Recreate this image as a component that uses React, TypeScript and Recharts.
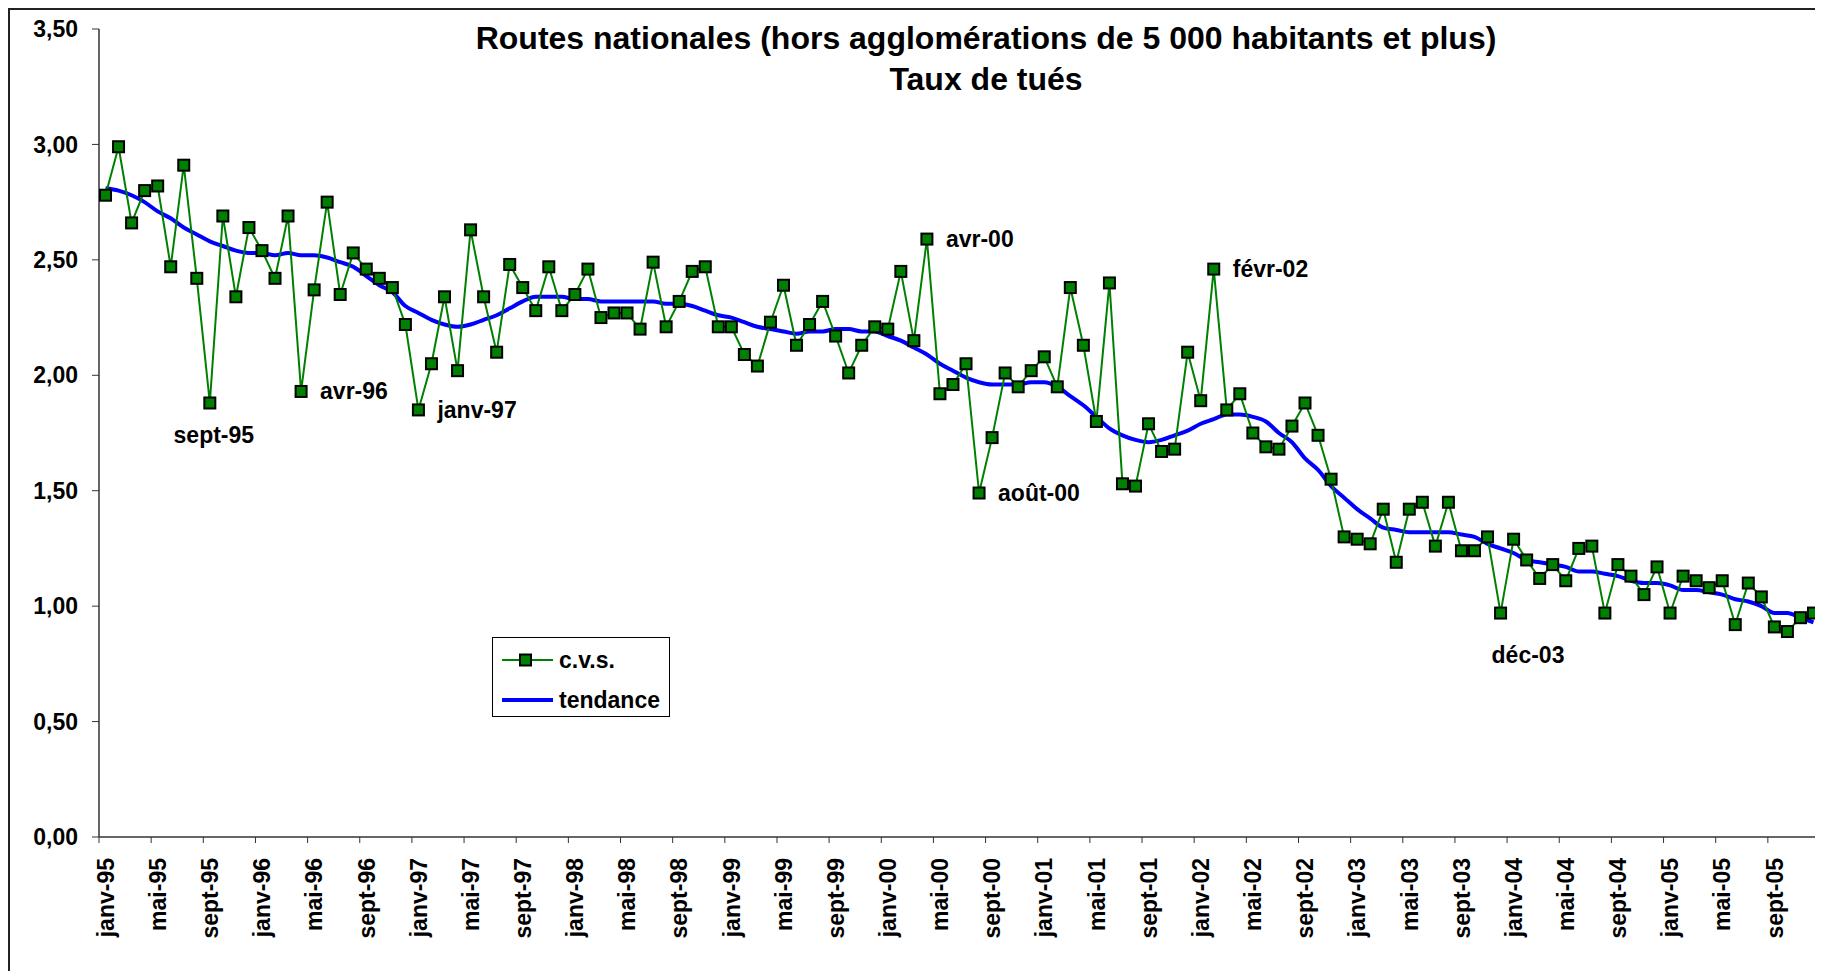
import { LineChart, Line, XAxis, YAxis, Legend } from 'recharts';

// Monthly series, janv-95 .. déc-05
const MONTHS = ['janv', 'févr', 'mars', 'avr', 'mai', 'juin', 'juil', 'août', 'sept', 'oct', 'nov', 'déc'];
const YEARS = ['95', '96', '97', '98', '99', '00', '01', '02', '03', '04', '05'];

// c.v.s. (seasonally adjusted) fatality rate
const CVS = [
  2.78, 2.99, 2.66, 2.80, 2.82, 2.47, 2.91, 2.42, 1.88, 2.69,
  2.34, 2.64, 2.54, 2.42, 2.69, 1.93, 2.37, 2.75, 2.35, 2.53,
  2.46, 2.42, 2.38, 2.22, 1.85, 2.05, 2.34, 2.02, 2.63, 2.34,
  2.10, 2.48, 2.38, 2.28, 2.47, 2.28, 2.35, 2.46, 2.25, 2.27,
  2.27, 2.20, 2.49, 2.21, 2.32, 2.45, 2.47, 2.21, 2.21, 2.09,
  2.04, 2.23, 2.39, 2.13, 2.22, 2.32, 2.17, 2.01, 2.13, 2.21,
  2.20, 2.45, 2.15, 2.59, 1.92, 1.96, 2.05, 1.49, 1.73, 2.01,
  1.95, 2.02, 2.08, 1.95, 2.38, 2.13, 1.80, 2.40, 1.53, 1.52,
  1.79, 1.67, 1.68, 2.10, 1.89, 2.46, 1.85, 1.92, 1.75, 1.69,
  1.68, 1.78, 1.88, 1.74, 1.55, 1.30, 1.29, 1.27, 1.42, 1.19,
  1.42, 1.45, 1.26, 1.45, 1.24, 1.24, 1.30, 0.97, 1.29, 1.20,
  1.12, 1.18, 1.11, 1.25, 1.26, 0.97, 1.18, 1.13, 1.05, 1.17,
  0.97, 1.13, 1.11, 1.08, 1.11, 0.92, 1.10, 1.04, 0.91, 0.89,
  0.95, 0.97,
];

// tendance (trend)
const TREND = [
  2.81, 2.80, 2.78, 2.75, 2.71, 2.68, 2.64, 2.61, 2.58, 2.56,
  2.54, 2.53, 2.53, 2.52, 2.53, 2.52, 2.52, 2.51, 2.49, 2.47,
  2.43, 2.39, 2.36, 2.30, 2.27, 2.24, 2.22, 2.21, 2.22, 2.24,
  2.26, 2.29, 2.32, 2.34, 2.34, 2.34, 2.33, 2.33, 2.32, 2.32,
  2.32, 2.32, 2.32, 2.31, 2.31, 2.30, 2.28, 2.26, 2.25, 2.23,
  2.21, 2.20, 2.19, 2.18, 2.19, 2.19, 2.20, 2.20, 2.19, 2.19,
  2.17, 2.15, 2.12, 2.09, 2.05, 2.02, 1.99, 1.97, 1.96, 1.96,
  1.96, 1.97, 1.97, 1.95, 1.91, 1.87, 1.82, 1.77, 1.74, 1.72,
  1.71, 1.72, 1.74, 1.76, 1.79, 1.81, 1.83, 1.83, 1.82, 1.80,
  1.75, 1.71, 1.64, 1.59, 1.52, 1.47, 1.42, 1.38, 1.34, 1.33,
  1.32, 1.32, 1.32, 1.32, 1.31, 1.30, 1.27, 1.25, 1.23, 1.20,
  1.19, 1.18, 1.17, 1.15, 1.15, 1.14, 1.13, 1.11, 1.10, 1.10,
  1.09, 1.07, 1.07, 1.06, 1.05, 1.03, 1.02, 1.00, 0.97, 0.97,
  0.95, 0.93,
];

const TICK_LABELS = [
  'janv-95', 'mai-95', 'sept-95', 'janv-96', 'mai-96', 'sept-96', 'janv-97', 'mai-97', 'sept-97',
  'janv-98', 'mai-98', 'sept-98', 'janv-99', 'mai-99', 'sept-99', 'janv-00', 'mai-00', 'sept-00',
  'janv-01', 'mai-01', 'sept-01', 'janv-02', 'mai-02', 'sept-02', 'janv-03', 'mai-03', 'sept-03',
  'janv-04', 'mai-04', 'sept-04', 'janv-05', 'mai-05', 'sept-05',
];
const Y_TICKS = [0, 0.5, 1, 1.5, 2, 2.5, 3, 3.5];

// months called out on the chart
const ANNOTATED = ['sept-95', 'avr-96', 'janv-97', 'avr-00', 'août-00', 'févr-02', 'déc-03'];

const TITLE = ['Routes nationales (hors agglomérations de 5 000 habitants et plus)', 'Taux de tués'];

const FONT = '"Liberation Sans", Arial, sans-serif';
const GREEN = '#008000';
const BLUE = '#0000ff';
const AXIS = '#333';
const STEP = 4; // months between x ticks

// where each callout sits relative to its point
const LABEL_POS: Record<string, { dx: number; dy: number; anchor: 'start' | 'middle' }> = {
  'sept-95': { dx: 4, dy: 40, anchor: 'middle' },
  'déc-03': { dx: -9, dy: 50, anchor: 'start' },
};
const DEFAULT_POS = { dx: 19, dy: 8, anchor: 'start' as const };

const data = CVS.map((v, i) => ({
  x: i + 0.5, // points sit in the middle of their month slot
  month: `${MONTHS[i % 12]}-${YEARS[Math.floor(i / 12)]}`,
  cvs: v,
  trend: TREND[i],
}));

const W = 1815;
const H = 963;
const X_TICKS = TICK_LABELS.map((_, i) => i * STEP);

const fmt = (v: number) => v.toFixed(2).replace('.', ',');

const MonthTick = ({ x, y, payload }: any) => {
  const label = TICK_LABELS[Math.round(payload.value / STEP)];
  const tx = x + 6.5;
  const ty = y + 13;
  return (
    <text
      x={tx} y={ty} dy="0.36em"
      transform={`rotate(-90, ${tx}, ${ty})`}
      textAnchor="end"
      fontSize={23} fontWeight="bold" fill="#000"
    >
      {label}
    </text>
  );
};

const SquareDot = (props: any) => {
  const { cx, cy, index, payload } = props;
  if (cx == null || cy == null) return <g key={`d-${index}`} />;
  const callout = ANNOTATED.includes(payload.month);
  const pos = LABEL_POS[payload.month] ?? DEFAULT_POS;
  return (
    <g key={`d-${index}`}>
      <rect x={cx - 5.5} y={cy - 5.5} width={11} height={11} fill={GREEN} stroke="#000" strokeWidth={2} />
      {callout && (
        <text x={cx + pos.dx} y={cy + pos.dy} textAnchor={pos.anchor} fontSize={23} fontWeight="bold" fill="#000">
          {payload.month}
        </text>
      )}
    </g>
  );
};

const LegendBox = () => (
  <div style={{
    position: 'relative', width: 178, height: 80, boxSizing: 'border-box',
    border: '1px solid #000', background: '#fff', fontFamily: FONT,
    fontSize: 23, fontWeight: 'bold', color: '#000',
  }}>
    <svg width={60} height={80} style={{ position: 'absolute', left: 0, top: 0 }}>
      <line x1={9} x2={60} y1={22} y2={22} stroke={GREEN} strokeWidth={2} />
      <rect x={27} y={16.5} width={11} height={11} fill={GREEN} stroke="#000" strokeWidth={2} />
      <line x1={9} x2={60} y1={62} y2={62} stroke={BLUE} strokeWidth={4} />
    </svg>
    <div style={{ position: 'absolute', left: 66, top: 22, transform: 'translateY(-50%)', lineHeight: 1 }}>c.v.s.</div>
    <div style={{ position: 'absolute', left: 66, top: 62, transform: 'translateY(-50%)', lineHeight: 1 }}>tendance</div>
  </div>
);

export default function App() {
  return (
    <div style={{ position: 'relative', width: W, height: H, overflow: 'hidden', background: '#fff', fontFamily: FONT }}>
      <LineChart width={W} height={H} data={data} margin={{ top: 21, right: 3, bottom: 0, left: 0 }}>
        <XAxis
          dataKey="x" type="number" domain={[0, CVS.length]} ticks={X_TICKS} interval={0}
          height={134} tick={<MonthTick />} tickSize={6}
          axisLine={{ stroke: AXIS, strokeWidth: 1.5 }} tickLine={{ stroke: AXIS }}
          allowDataOverflow
        />
        <YAxis
          type="number" domain={[0, 3.5]} ticks={Y_TICKS} width={91} interval={0}
          tickFormatter={fmt} tickSize={7} tickMargin={14}
          tick={{ fontSize: 23, fontWeight: 'bold', fill: '#000' }}
          axisLine={{ stroke: AXIS, strokeWidth: 1.5 }} tickLine={{ stroke: AXIS }}
        />
        <Legend
          layout="vertical" align="center" verticalAlign="middle"
          wrapperStyle={{ left: 484, top: 629, width: 178, height: 80 }}
          content={<LegendBox />}
        />
        <Line
          dataKey="trend" name="tendance" type="monotone" stroke={BLUE} strokeWidth={4}
          dot={false} isAnimationActive={false}
        />
        <Line
          dataKey="cvs" name="c.v.s." type="linear" stroke={GREEN} strokeWidth={2}
          dot={SquareDot} activeDot={false} isAnimationActive={false}
        />
      </LineChart>

      <svg width={W} height={100} style={{ position: 'absolute', left: 0, top: 0, pointerEvents: 'none' }}>
        <text x={978} y={41} textAnchor="middle" fontSize={32} fontWeight="bold" fill="#000">{TITLE[0]}</text>
        <text x={978} y={82} textAnchor="middle" fontSize={32} fontWeight="bold" fill="#000">{TITLE[1]}</text>
      </svg>
      <div style={{
        position: 'absolute', inset: 0, pointerEvents: 'none',
        borderLeft: '2px solid #222', borderTop: '2px solid #222',
      }} />
    </div>
  );
}
